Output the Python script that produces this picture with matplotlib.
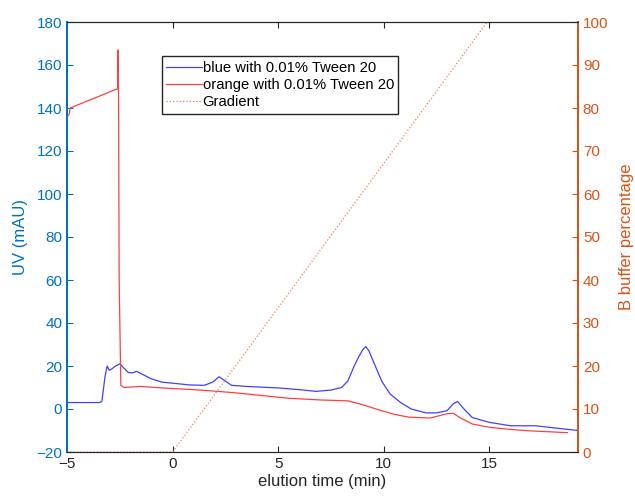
import matplotlib.pyplot as plt

plt.rcParams['font.family'] = ['Liberation Sans', 'DejaVu Sans']

# blue run (mAU vs min)
blue_t = [-5, -3.45, -3.35, -3.2, -3.1, -3.0, -2.9, -2.7, -2.5, -2.3, -2.1, -1.9,
          -1.7, -1.4, -1.0, -0.5, 0, 0.8, 1.5, 1.9, 2.2, 2.5, 2.8, 3.5, 5, 6,
          6.8, 7.5, 8.0, 8.3, 8.6, 8.8, 9.0, 9.15, 9.3, 9.6, 9.9, 10.3, 10.8,
          11.3, 12.0, 12.5, 13.0, 13.3, 13.5, 13.8, 14.2, 15, 16, 17.2, 17.8, 19.2]
blue_uv = [3, 3, 3.5, 15, 20, 18, 18.5, 20, 21, 19, 17, 16.8, 17.5, 16, 14, 12.5,
           12, 11.2, 11, 12.5, 15, 13, 11, 10.5, 9.8, 9, 8.2, 8.8, 10, 13, 20,
           24, 27.5, 29, 27, 20, 13, 7, 3, 0, -1.8, -1.8, -0.8, 2.5, 3.5, 0,
           -4, -6.2, -7.8, -7.8, -8.5, -10]

# orange run
red_t = [-5, -4.9, -4.85, -2.6, -2.58, -2.56, -2.53, -2.45, -2.3, -1.5, -0.5, 0,
         1, 2, 3, 4, 5.5, 7, 8.3, 9.0, 9.8, 10.5, 11.2, 12.2, 13.0, 13.3, 13.6,
         14.2, 15, 16, 17, 18.7]
red_uv = [136, 137, 140, 149, 167, 149, 60, 11, 10, 10.5, 9.8, 9.5, 9, 8.3, 7.5,
          6.5, 5, 4.2, 3.8, 2, -0.5, -2.5, -3.8, -4.2, -2.2, -2, -4, -7, -8.5,
          -9.5, -10.2, -11]

# gradient (% B)
grad_t = [-5, 0, 14.9, 19.2]
grad_b = [0, 0, 100, 100]

blue_ax = '#0072BD'
orange_ax = '#D95319'

fig = plt.figure(figsize=(6.35, 5), dpi=100)
ax = fig.add_axes([67 / 635, 48 / 500, 511 / 635, 430 / 500])
ax2 = ax.twinx()

l1, = ax.plot(blue_t, blue_uv, color='#4040FF', lw=0.9, label='blue with 0.01% Tween 20')
l2, = ax.plot(red_t, red_uv, color='#FF4040', lw=0.9, label='orange with 0.01% Tween 20')
l3, = ax2.plot(grad_t, grad_b, color='#F08060', lw=0.9, ls=':', label='Gradient')

ax.set_xlim(-5, 19.2)
ax.set_ylim(-20, 180)
ax.set_yticks(range(-20, 181, 20))
ax.set_xticks([-5, 0, 5, 10, 15])
ax2.set_ylim(0, 100)
ax2.set_yticks(range(0, 101, 10))

ax.tick_params(axis='both', direction='in', labelsize=11, length=4, top=True)
ax.tick_params(axis='y', colors=blue_ax)
ax.tick_params(axis='x', colors='#262626')
ax2.tick_params(axis='y', direction='in', labelsize=11, length=4, colors=orange_ax)

ax.set_xlabel('elution time (min)', fontsize=12, color='#262626', labelpad=2)
ax.set_ylabel('UV (mAU)', fontsize=12, color=blue_ax, labelpad=6)
ax2.set_ylabel('B buffer percentage', fontsize=12, color=orange_ax, labelpad=8)

for a in (ax, ax2):
    a.spines['left'].set_color(blue_ax)
    a.spines['right'].set_color(orange_ax)
    a.spines['top'].set_color('#262626')
    a.spines['bottom'].set_color('#262626')
    a.spines['left'].set_linewidth(1.3)
    a.spines['right'].set_linewidth(1.3)

leg = ax.legend(handles=[l1, l2, l3], loc='upper left', bbox_to_anchor=(0.186, 0.92),
                fontsize=10.6, fancybox=False, framealpha=1, edgecolor='#262626',
                borderpad=0.3, labelspacing=0.22, handlelength=2.4, handletextpad=0.05,
                borderaxespad=0)
leg.get_frame().set_linewidth(1.0)

fig.savefig('out.png', dpi=100)
